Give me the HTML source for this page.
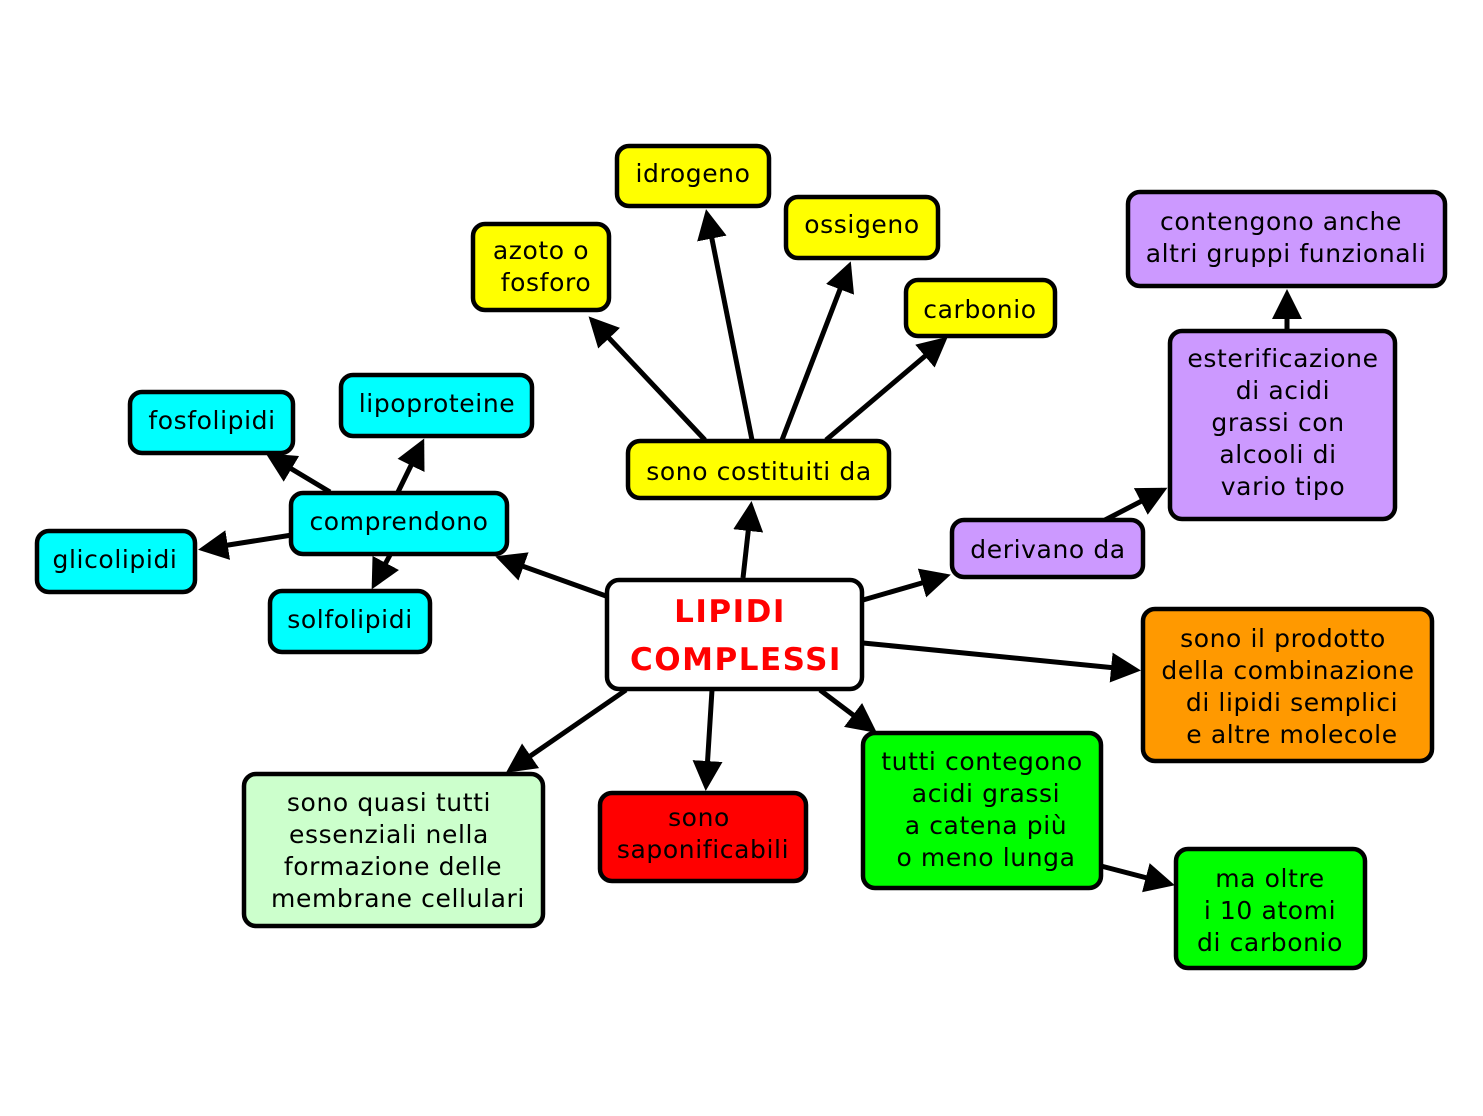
<!DOCTYPE html>
<html><head><meta charset="utf-8"><style>
html,body{margin:0;padding:0;background:#fff;}
svg{display:block}
text{font-family:"DejaVu Sans","Liberation Sans",sans-serif;font-size:25px;letter-spacing:0.6px;fill:#000;text-anchor:middle}
</style></head><body>
<svg width="1483" height="1116" viewBox="0 0 1483 1116" xmlns="http://www.w3.org/2000/svg">
<defs>
<marker id="a" markerWidth="6" markerHeight="6" refX="5" refY="3" orient="auto" markerUnits="strokeWidth">
<path d="M0,0 L6,3 L0,6 z" fill="#000"/>
</marker>
</defs>
<g stroke="#000" stroke-width="5" fill="none" marker-end="url(#a)">
<line x1="705" y1="440" x2="592" y2="320"/>
<line x1="752" y1="440" x2="707" y2="214"/>
<line x1="782" y1="440" x2="849" y2="266"/>
<line x1="826" y1="440" x2="944" y2="340"/>
<line x1="743" y1="578" x2="751" y2="506"/>
<line x1="863" y1="600" x2="946" y2="576"/>
<line x1="1105" y1="520" x2="1163" y2="490"/>
<line x1="1287" y1="329" x2="1287" y2="294"/>
<line x1="863" y1="643" x2="1136" y2="670"/>
<line x1="820" y1="690" x2="873" y2="730"/>
<line x1="712" y1="690" x2="706" y2="786"/>
<line x1="626" y1="690" x2="510" y2="770"/>
<line x1="606" y1="596" x2="500" y2="558"/>
<line x1="1101" y1="866" x2="1170" y2="884"/>
<line x1="292" y1="535" x2="203" y2="549"/>
<line x1="330" y1="492" x2="270" y2="456"/>
<line x1="398" y1="492" x2="422" y2="443"/>
<line x1="390" y1="555" x2="374" y2="585"/>
</g>
<g stroke="#000" stroke-width="4.5">
<rect x="617" y="146" width="152" height="60" rx="12" fill="#ffff00"/>
<rect x="473" y="224" width="136" height="86" rx="12" fill="#ffff00"/>
<rect x="786" y="197" width="152" height="61" rx="12" fill="#ffff00"/>
<rect x="906" y="280" width="149" height="56" rx="12" fill="#ffff00"/>
<rect x="628" y="441" width="261" height="57" rx="12" fill="#ffff00"/>
<rect x="1128" y="192" width="317" height="94" rx="12" fill="#cc99ff"/>
<rect x="1170" y="331" width="225" height="188" rx="12" fill="#cc99ff"/>
<rect x="952" y="520" width="191" height="57" rx="12" fill="#cc99ff"/>
<rect x="607" y="580" width="255" height="109" rx="12" fill="#fff"/>
<rect x="1143" y="609" width="289" height="152" rx="12" fill="#ff9900"/>
<rect x="863" y="733" width="238" height="155" rx="12" fill="#00ff00"/>
<rect x="1176" y="849" width="189" height="119" rx="12" fill="#00ff00"/>
<rect x="600" y="793" width="206" height="88" rx="12" fill="#ff0000"/>
<rect x="244" y="774" width="299" height="152" rx="12" fill="#ccffcc"/>
<rect x="130" y="392" width="163" height="61" rx="12" fill="#00ffff"/>
<rect x="341" y="375" width="191" height="61" rx="12" fill="#00ffff"/>
<rect x="291" y="493" width="216" height="61" rx="12" fill="#00ffff"/>
<rect x="37" y="531" width="158" height="61" rx="12" fill="#00ffff"/>
<rect x="270" y="591" width="160" height="61" rx="12" fill="#00ffff"/>
</g>
<text x="693" y="182">idrogeno</text>
<text x="541" y="259">azoto o</text>
<text x="546" y="291">fosforo</text>
<text x="862" y="233">ossigeno</text>
<text x="980" y="318">carbonio</text>
<text x="759" y="480">sono costituiti da</text>
<text x="1281" y="230">contengono anche</text>
<text x="1286" y="262">altri gruppi funzionali</text>
<text x="1283" y="367">esterificazione</text>
<text x="1283" y="399">di acidi</text>
<text x="1278" y="431">grassi con</text>
<text x="1278" y="463">alcooli di</text>
<text x="1283" y="495">vario tipo</text>
<text x="1048" y="558">derivano da</text>
<text x="730" y="622" style="font-size:31px;letter-spacing:1.5px;font-weight:bold;fill:#ff0000">LIPIDI</text>
<text x="736" y="670" style="font-size:31px;letter-spacing:1.5px;font-weight:bold;fill:#ff0000">COMPLESSI</text>
<text x="1283" y="647">sono il prodotto</text>
<text x="1288" y="679">della combinazione</text>
<text x="1292" y="711">di lipidi semplici</text>
<text x="1292" y="743">e altre molecole</text>
<text x="982" y="770">tutti contegono</text>
<text x="986" y="802">acidi grassi</text>
<text x="986" y="834">a catena più</text>
<text x="986" y="866">o meno lunga</text>
<text x="1270" y="887">ma oltre</text>
<text x="1270" y="919">i 10 atomi</text>
<text x="1270" y="951">di carbonio</text>
<text x="699" y="826">sono</text>
<text x="703" y="858">saponificabili</text>
<text x="389" y="811">sono quasi tutti</text>
<text x="389" y="843">essenziali nella</text>
<text x="393" y="875">formazione delle</text>
<text x="398" y="907">membrane cellulari</text>
<text x="212" y="429">fosfolipidi</text>
<text x="437" y="412">lipoproteine</text>
<text x="399" y="530">comprendono</text>
<text x="115" y="568">glicolipidi</text>
<text x="350" y="628">solfolipidi</text>
</svg>
</body></html>
